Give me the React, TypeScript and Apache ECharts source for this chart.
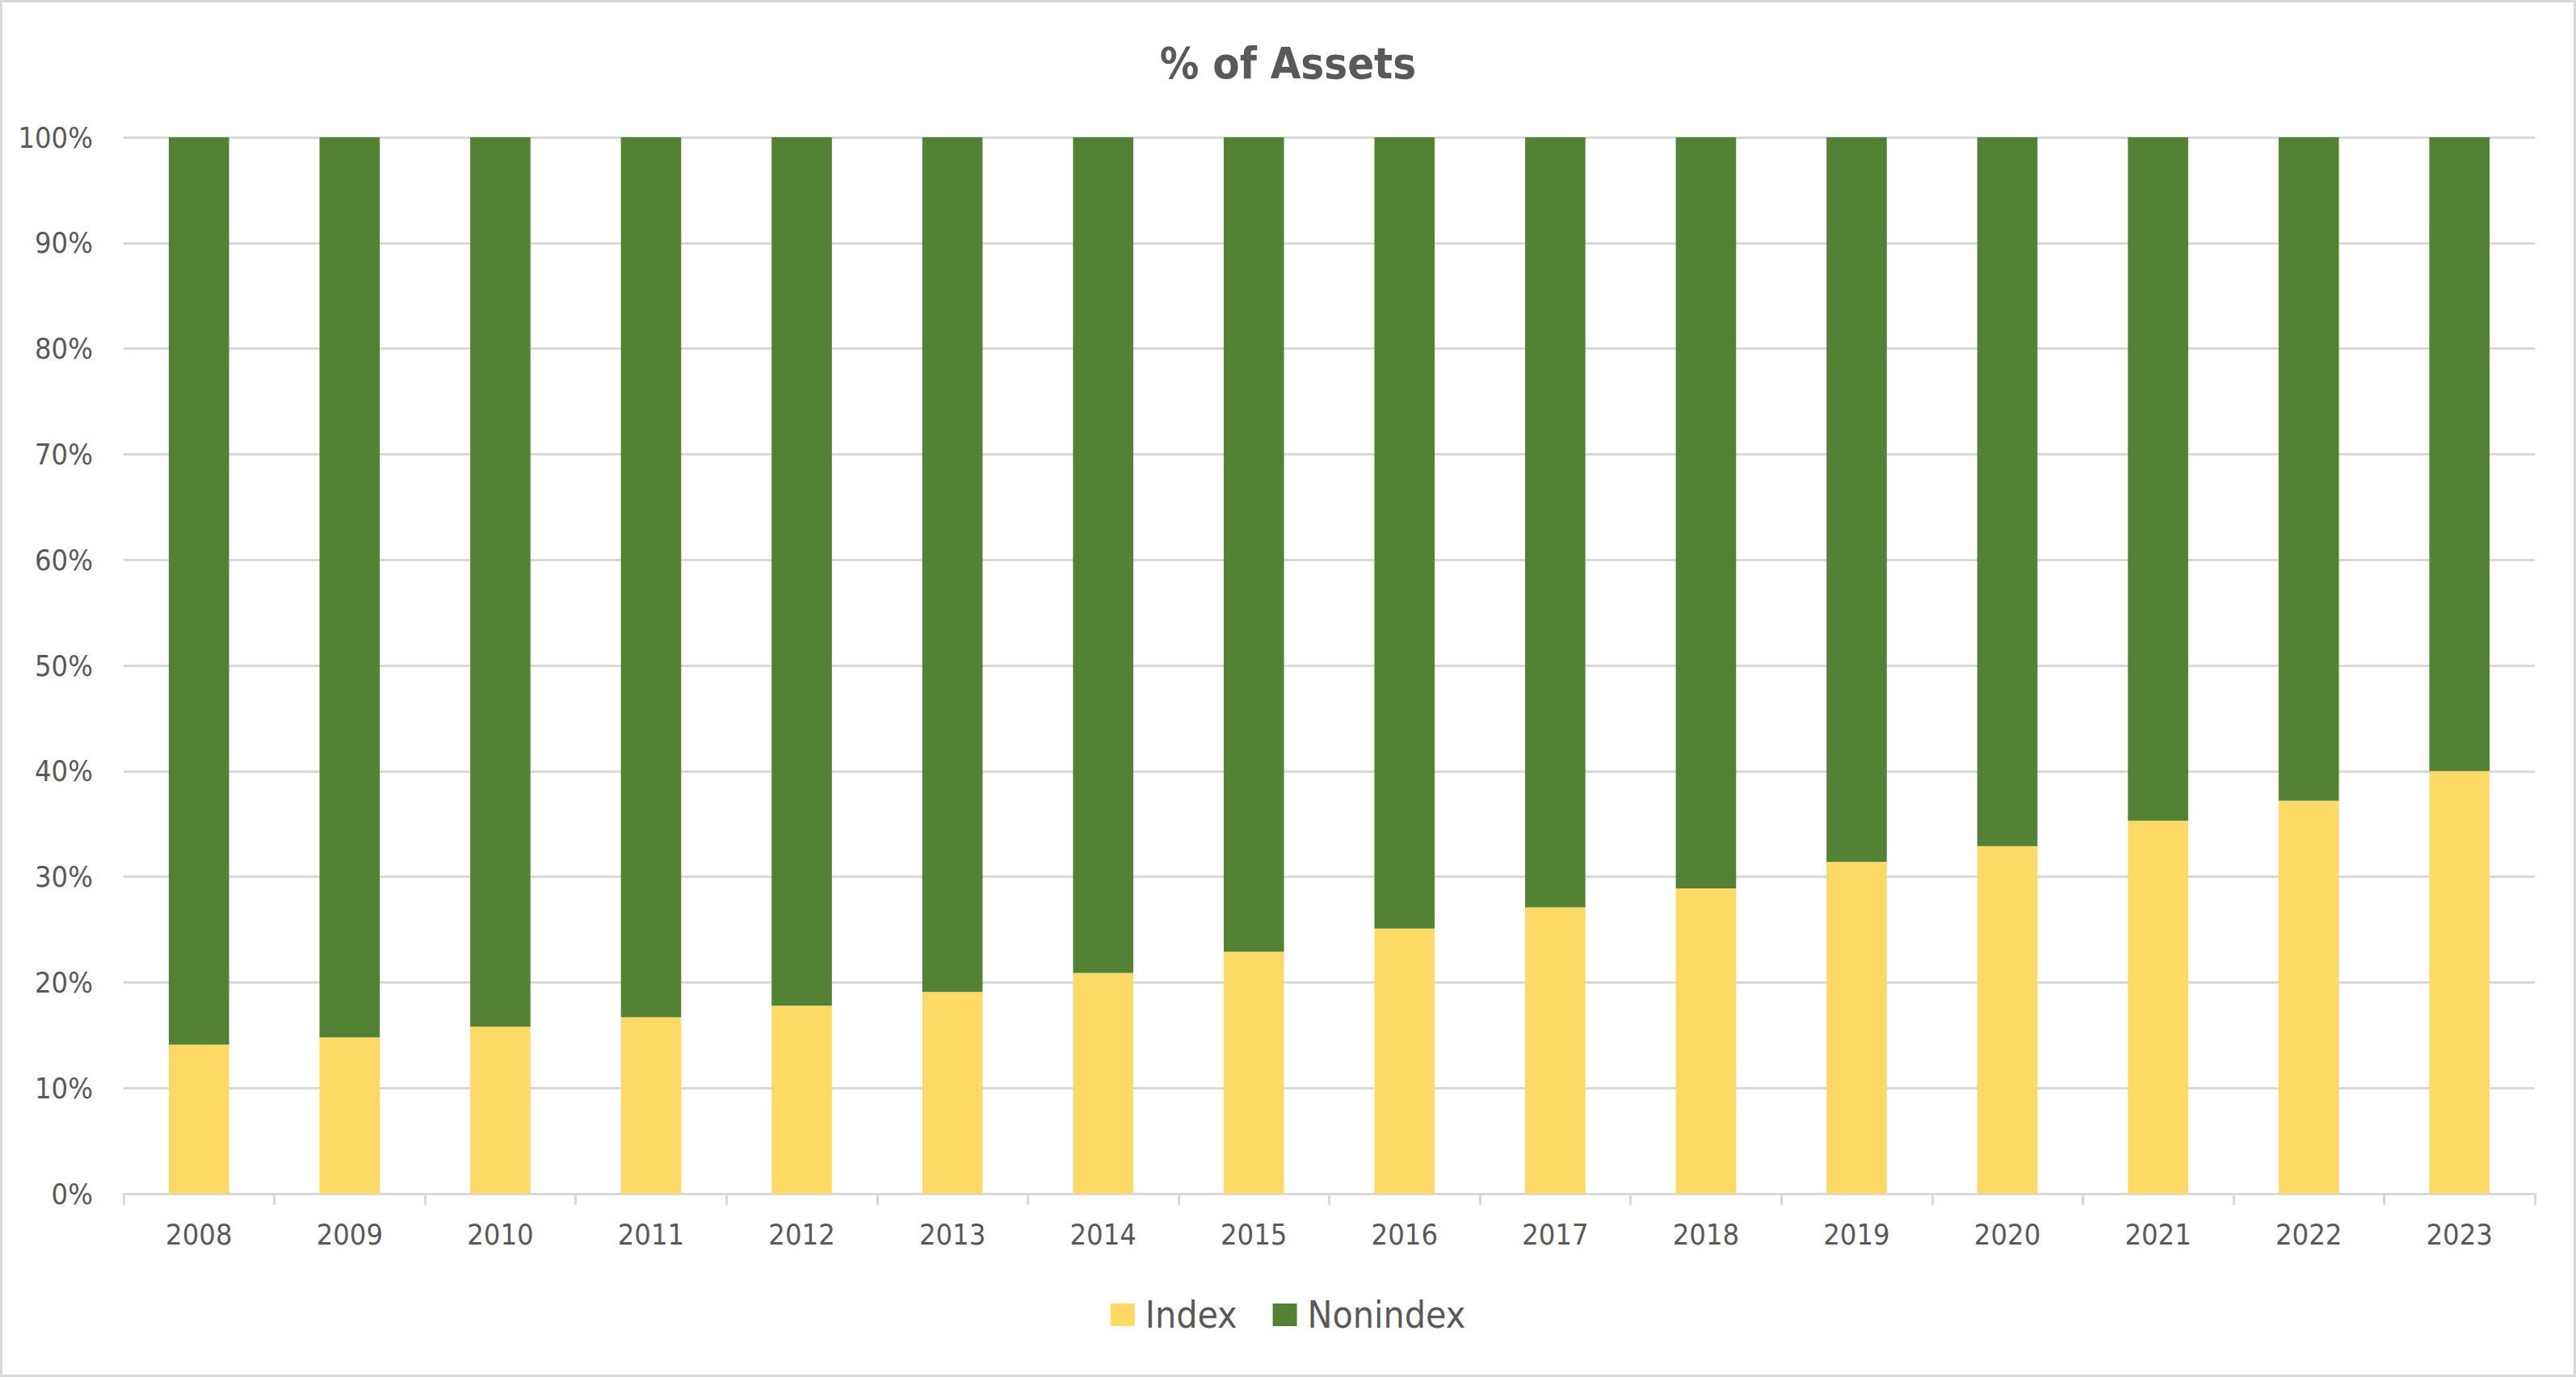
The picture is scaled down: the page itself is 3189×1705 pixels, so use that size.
import React, { useEffect, useRef } from "react";
import * as echarts from "echarts";

const years = ["2008","2009","2010","2011","2012","2013","2014","2015","2016","2017","2018","2019","2020","2021","2022","2023"];
const indexShare = [14.1, 14.8, 15.8, 16.7, 17.8, 19.1, 20.9, 22.9, 25.1, 27.1, 28.9, 31.4, 32.9, 35.3, 37.2, 40.0];
const nonindexShare = [85.9, 85.2, 84.2, 83.3, 82.2, 80.9, 79.1, 77.1, 74.9, 72.9, 71.1, 68.6, 67.1, 64.7, 62.8, 60.0];
const seriesNames = ["Index", "Nonindex"];
const titleText = "% of Assets";

const FONT = "'DejaVu Sans Condensed', 'Liberation Sans Narrow', 'Liberation Sans', sans-serif";
const TEXT = "#595959";
const GRID = "#d9d9d9";

export default function App() {
  const ref = useRef<HTMLDivElement>(null);
  useEffect(() => {
    document.body.style.margin = "0";
    const chart = echarts.init(ref.current!, null, { renderer: "svg" });
    chart.setOption({
      animation: false,
      title: {
        text: titleText,
        left: "center",
        top: 45,
        textStyle: { fontFamily: FONT, fontSize: 54, fontWeight: "bold", color: TEXT, lineHeight: 56 },
      },
      legend: {
        data: seriesNames,
        left: "center",
        top: 1599,
        itemWidth: 30,
        itemHeight: 28,
        itemGap: 44,
        icon: "rect",
        textStyle: { fontFamily: FONT, fontSize: 46, color: TEXT, lineHeight: 48, padding: [0, 0, 0, 8] },
      },
      grid: { left: 153, right: 51, top: 170, bottom: 227, containLabel: false },
      xAxis: {
        type: "category",
        data: years,
        axisLine: { show: true, lineStyle: { color: GRID, width: 3 } },
        axisTick: { show: true, length: 14, lineStyle: { color: GRID, width: 3 } },
        axisLabel: { fontFamily: FONT, fontSize: 36, color: TEXT, margin: 32 },
      },
      yAxis: {
        type: "value",
        min: 0,
        max: 100,
        interval: 10,
        axisLine: { show: false },
        axisTick: { show: false },
        splitLine: { show: true, lineStyle: { color: GRID, width: 3 } },
        axisLabel: { fontFamily: FONT, fontSize: 36, color: TEXT, margin: 38, formatter: "{value}%" },
      },
      series: [
        {
          name: seriesNames[0],
          type: "bar",
          stack: "total",
          data: indexShare,
          barCategoryGap: "60%",
          itemStyle: { color: "#FFD966" },
        },
        {
          name: seriesNames[1],
          type: "bar",
          stack: "total",
          data: nonindexShare,
          barCategoryGap: "60%",
          itemStyle: { color: "#548235" },
        },
      ],
    });
    return () => chart.dispose();
  }, []);
  return (
    <div
      style={{
        position: "absolute",
        left: 0,
        top: 0,
        width: 3189,
        height: 1705,
        boxSizing: "border-box",
        border: "3px solid #d9d9d9",
        background: "#fff",
      }}
    >
      <div ref={ref} style={{ position: "absolute", left: -3, top: -3, width: 3189, height: 1705 }} />
    </div>
  );
}
